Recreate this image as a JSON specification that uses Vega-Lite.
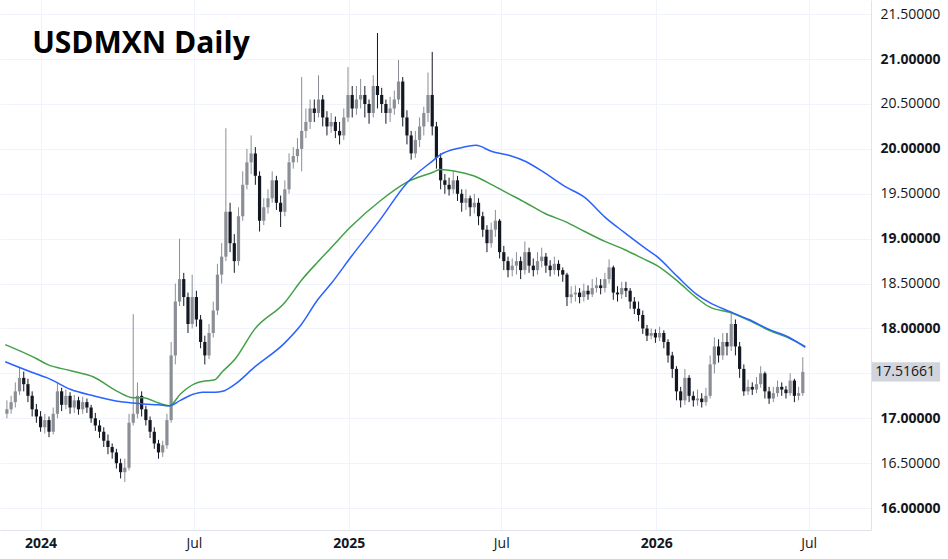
{
  "$schema": "https://vega.github.io/schema/vega-lite/v6.json",
  "width": 871,
  "height": 530,
  "autosize": "none",
  "padding": {"left": 0, "top": 0, "right": 77, "bottom": 29},
  "background": "#ffffff",
  "config": {
    "view": {"stroke": null},
    "font": "Open Sans"
  },
  "datasets": {
    "k": [
      {"d":"2023-11-22","o":17.05,"h":17.2,"l":17.0,"c":17.1},
      {"d":"2023-11-27","o":17.1,"h":17.25,"l":17.05,"c":17.18},
      {"d":"2023-12-02","o":17.18,"h":17.4,"l":17.12,"c":17.3},
      {"d":"2023-12-07","o":17.3,"h":17.57,"l":17.26,"c":17.45},
      {"d":"2023-12-12","o":17.45,"h":17.52,"l":17.3,"c":17.38},
      {"d":"2023-12-17","o":17.38,"h":17.44,"l":17.18,"c":17.25},
      {"d":"2023-12-22","o":17.25,"h":17.3,"l":17.02,"c":17.1},
      {"d":"2023-12-27","o":17.1,"h":17.16,"l":16.95,"c":17.02},
      {"d":"2024-01-01","o":17.02,"h":17.08,"l":16.85,"c":16.9},
      {"d":"2024-01-06","o":16.9,"h":17.05,"l":16.83,"c":16.98},
      {"d":"2024-01-11","o":16.98,"h":17.02,"l":16.79,"c":16.85},
      {"d":"2024-01-16","o":16.85,"h":17.12,"l":16.82,"c":17.05},
      {"d":"2024-01-21","o":17.05,"h":17.4,"l":17.0,"c":17.3},
      {"d":"2024-01-26","o":17.3,"h":17.34,"l":17.08,"c":17.15},
      {"d":"2024-01-31","o":17.15,"h":17.32,"l":17.1,"c":17.25},
      {"d":"2024-02-05","o":17.25,"h":17.29,"l":17.05,"c":17.12},
      {"d":"2024-02-10","o":17.12,"h":17.26,"l":17.06,"c":17.2},
      {"d":"2024-02-15","o":17.2,"h":17.24,"l":17.04,"c":17.1},
      {"d":"2024-02-20","o":17.1,"h":17.24,"l":17.05,"c":17.18},
      {"d":"2024-02-25","o":17.18,"h":17.22,"l":17.06,"c":17.12},
      {"d":"2024-03-01","o":17.12,"h":17.15,"l":16.95,"c":17.0},
      {"d":"2024-03-06","o":17.0,"h":17.06,"l":16.86,"c":16.92},
      {"d":"2024-03-11","o":16.92,"h":16.98,"l":16.78,"c":16.85},
      {"d":"2024-03-16","o":16.85,"h":16.9,"l":16.68,"c":16.75},
      {"d":"2024-03-21","o":16.75,"h":16.82,"l":16.6,"c":16.68},
      {"d":"2024-03-26","o":16.68,"h":16.72,"l":16.55,"c":16.62},
      {"d":"2024-03-31","o":16.62,"h":16.66,"l":16.44,"c":16.5},
      {"d":"2024-04-05","o":16.5,"h":16.55,"l":16.33,"c":16.4},
      {"d":"2024-04-10","o":16.4,"h":16.55,"l":16.29,"c":16.45},
      {"d":"2024-04-15","o":16.45,"h":17.05,"l":16.42,"c":16.95},
      {"d":"2024-04-20","o":16.95,"h":18.16,"l":16.92,"c":17.05},
      {"d":"2024-04-25","o":17.05,"h":17.4,"l":17.0,"c":17.25},
      {"d":"2024-04-30","o":17.25,"h":17.3,"l":17.02,"c":17.1},
      {"d":"2024-05-05","o":17.1,"h":17.14,"l":16.92,"c":16.98},
      {"d":"2024-05-10","o":16.98,"h":17.02,"l":16.78,"c":16.85},
      {"d":"2024-05-15","o":16.85,"h":16.9,"l":16.66,"c":16.72},
      {"d":"2024-05-20","o":16.72,"h":16.76,"l":16.55,"c":16.62},
      {"d":"2024-05-25","o":16.62,"h":16.75,"l":16.57,"c":16.7},
      {"d":"2024-05-30","o":16.7,"h":17.05,"l":16.66,"c":16.98},
      {"d":"2024-06-04","o":16.98,"h":17.85,"l":16.95,"c":17.7},
      {"d":"2024-06-09","o":17.7,"h":18.5,"l":17.6,"c":18.3},
      {"d":"2024-06-14","o":18.3,"h":19.0,"l":18.25,"c":18.55},
      {"d":"2024-06-19","o":18.55,"h":18.62,"l":18.25,"c":18.35},
      {"d":"2024-06-24","o":18.35,"h":18.4,"l":17.95,"c":18.05},
      {"d":"2024-06-29","o":18.05,"h":18.6,"l":18.0,"c":18.35},
      {"d":"2024-07-04","o":18.35,"h":18.42,"l":18.02,"c":18.1},
      {"d":"2024-07-09","o":18.1,"h":18.15,"l":17.78,"c":17.85},
      {"d":"2024-07-14","o":17.85,"h":17.92,"l":17.6,"c":17.7},
      {"d":"2024-07-19","o":17.7,"h":18.05,"l":17.66,"c":17.95},
      {"d":"2024-07-24","o":17.95,"h":18.3,"l":17.9,"c":18.2},
      {"d":"2024-07-29","o":18.2,"h":18.72,"l":18.15,"c":18.6},
      {"d":"2024-08-03","o":18.6,"h":18.95,"l":18.5,"c":18.8},
      {"d":"2024-08-08","o":18.8,"h":20.23,"l":18.75,"c":19.3},
      {"d":"2024-08-13","o":19.3,"h":19.4,"l":18.85,"c":18.95},
      {"d":"2024-08-18","o":18.95,"h":19.05,"l":18.62,"c":18.75},
      {"d":"2024-08-23","o":18.75,"h":19.35,"l":18.7,"c":19.25},
      {"d":"2024-08-28","o":19.25,"h":19.75,"l":19.2,"c":19.6},
      {"d":"2024-09-02","o":19.6,"h":20.0,"l":19.55,"c":19.85},
      {"d":"2024-09-07","o":19.85,"h":20.15,"l":19.72,"c":19.95},
      {"d":"2024-09-12","o":19.95,"h":20.02,"l":19.6,"c":19.7},
      {"d":"2024-09-17","o":19.7,"h":19.75,"l":19.08,"c":19.2},
      {"d":"2024-09-22","o":19.2,"h":19.45,"l":19.15,"c":19.35},
      {"d":"2024-09-27","o":19.35,"h":19.55,"l":19.28,"c":19.45},
      {"d":"2024-10-02","o":19.45,"h":19.75,"l":19.4,"c":19.65},
      {"d":"2024-10-07","o":19.65,"h":19.7,"l":19.32,"c":19.4},
      {"d":"2024-10-12","o":19.4,"h":19.48,"l":19.13,"c":19.3},
      {"d":"2024-10-17","o":19.3,"h":19.65,"l":19.25,"c":19.55},
      {"d":"2024-10-22","o":19.55,"h":19.95,"l":19.5,"c":19.85},
      {"d":"2024-10-27","o":19.85,"h":20.02,"l":19.78,"c":19.92},
      {"d":"2024-11-01","o":19.92,"h":20.12,"l":19.85,"c":20.0},
      {"d":"2024-11-06","o":20.0,"h":20.8,"l":19.75,"c":20.2},
      {"d":"2024-11-11","o":20.2,"h":20.45,"l":20.12,"c":20.3},
      {"d":"2024-11-16","o":20.3,"h":20.55,"l":20.22,"c":20.45},
      {"d":"2024-11-21","o":20.45,"h":20.55,"l":20.3,"c":20.4},
      {"d":"2024-11-26","o":20.4,"h":20.82,"l":20.35,"c":20.55},
      {"d":"2024-12-01","o":20.55,"h":20.6,"l":20.25,"c":20.35},
      {"d":"2024-12-06","o":20.35,"h":20.42,"l":20.15,"c":20.25},
      {"d":"2024-12-11","o":20.25,"h":20.4,"l":20.18,"c":20.3},
      {"d":"2024-12-16","o":20.3,"h":20.36,"l":20.12,"c":20.2},
      {"d":"2024-12-21","o":20.2,"h":20.3,"l":20.05,"c":20.15},
      {"d":"2024-12-26","o":20.15,"h":20.45,"l":20.1,"c":20.35},
      {"d":"2024-12-31","o":20.35,"h":20.91,"l":20.3,"c":20.6},
      {"d":"2025-01-05","o":20.6,"h":20.7,"l":20.35,"c":20.45},
      {"d":"2025-01-10","o":20.45,"h":20.7,"l":20.38,"c":20.55},
      {"d":"2025-01-15","o":20.55,"h":20.78,"l":20.45,"c":20.6},
      {"d":"2025-01-20","o":20.6,"h":20.7,"l":20.35,"c":20.5},
      {"d":"2025-01-25","o":20.5,"h":20.55,"l":20.28,"c":20.4},
      {"d":"2025-01-30","o":20.4,"h":20.82,"l":20.35,"c":20.7},
      {"d":"2025-02-04","o":20.7,"h":21.29,"l":20.45,"c":20.6},
      {"d":"2025-02-09","o":20.6,"h":20.68,"l":20.4,"c":20.5},
      {"d":"2025-02-14","o":20.5,"h":20.55,"l":20.28,"c":20.4},
      {"d":"2025-02-19","o":20.4,"h":20.58,"l":20.3,"c":20.45},
      {"d":"2025-02-24","o":20.45,"h":20.65,"l":20.38,"c":20.55},
      {"d":"2025-03-01","o":20.55,"h":20.99,"l":20.5,"c":20.75},
      {"d":"2025-03-06","o":20.75,"h":20.8,"l":20.25,"c":20.35},
      {"d":"2025-03-11","o":20.35,"h":20.43,"l":20.05,"c":20.15},
      {"d":"2025-03-16","o":20.15,"h":20.2,"l":19.88,"c":19.95},
      {"d":"2025-03-21","o":19.95,"h":20.2,"l":19.9,"c":20.1},
      {"d":"2025-03-26","o":20.1,"h":20.35,"l":20.02,"c":20.25},
      {"d":"2025-03-31","o":20.25,"h":20.47,"l":20.15,"c":20.4},
      {"d":"2025-04-05","o":20.4,"h":20.85,"l":20.3,"c":20.6},
      {"d":"2025-04-10","o":20.6,"h":21.08,"l":20.15,"c":20.25},
      {"d":"2025-04-15","o":20.25,"h":20.3,"l":19.78,"c":19.9},
      {"d":"2025-04-20","o":19.9,"h":19.95,"l":19.55,"c":19.65},
      {"d":"2025-04-25","o":19.65,"h":19.72,"l":19.5,"c":19.6},
      {"d":"2025-04-30","o":19.6,"h":19.68,"l":19.48,"c":19.55},
      {"d":"2025-05-05","o":19.55,"h":19.75,"l":19.5,"c":19.65},
      {"d":"2025-05-10","o":19.65,"h":19.7,"l":19.42,"c":19.5},
      {"d":"2025-05-15","o":19.5,"h":19.55,"l":19.3,"c":19.4},
      {"d":"2025-05-20","o":19.4,"h":19.55,"l":19.32,"c":19.45},
      {"d":"2025-05-25","o":19.45,"h":19.48,"l":19.25,"c":19.35},
      {"d":"2025-05-30","o":19.35,"h":19.5,"l":19.28,"c":19.4},
      {"d":"2025-06-04","o":19.4,"h":19.45,"l":19.15,"c":19.25},
      {"d":"2025-06-09","o":19.25,"h":19.3,"l":19.02,"c":19.1},
      {"d":"2025-06-14","o":19.1,"h":19.15,"l":18.85,"c":18.95},
      {"d":"2025-06-19","o":18.95,"h":19.18,"l":18.9,"c":19.1},
      {"d":"2025-06-24","o":19.1,"h":19.32,"l":19.02,"c":19.2},
      {"d":"2025-06-29","o":19.2,"h":19.22,"l":18.78,"c":18.85},
      {"d":"2025-07-04","o":18.85,"h":18.92,"l":18.65,"c":18.75},
      {"d":"2025-07-09","o":18.75,"h":18.8,"l":18.57,"c":18.65},
      {"d":"2025-07-14","o":18.65,"h":18.78,"l":18.58,"c":18.7},
      {"d":"2025-07-19","o":18.7,"h":18.85,"l":18.6,"c":18.75},
      {"d":"2025-07-24","o":18.75,"h":18.8,"l":18.55,"c":18.65},
      {"d":"2025-07-29","o":18.65,"h":18.97,"l":18.6,"c":18.85},
      {"d":"2025-08-03","o":18.85,"h":18.9,"l":18.62,"c":18.7},
      {"d":"2025-08-08","o":18.7,"h":18.78,"l":18.58,"c":18.65},
      {"d":"2025-08-13","o":18.65,"h":18.85,"l":18.6,"c":18.75},
      {"d":"2025-08-18","o":18.75,"h":18.9,"l":18.68,"c":18.8},
      {"d":"2025-08-23","o":18.8,"h":18.84,"l":18.62,"c":18.7},
      {"d":"2025-08-28","o":18.7,"h":18.76,"l":18.58,"c":18.65},
      {"d":"2025-09-02","o":18.65,"h":18.8,"l":18.6,"c":18.72},
      {"d":"2025-09-07","o":18.72,"h":18.76,"l":18.58,"c":18.65},
      {"d":"2025-09-12","o":18.65,"h":18.68,"l":18.52,"c":18.6},
      {"d":"2025-09-17","o":18.6,"h":18.62,"l":18.25,"c":18.35},
      {"d":"2025-09-22","o":18.35,"h":18.47,"l":18.28,"c":18.38},
      {"d":"2025-09-27","o":18.38,"h":18.48,"l":18.3,"c":18.4},
      {"d":"2025-10-02","o":18.4,"h":18.45,"l":18.28,"c":18.35},
      {"d":"2025-10-07","o":18.35,"h":18.5,"l":18.3,"c":18.42},
      {"d":"2025-10-12","o":18.42,"h":18.48,"l":18.32,"c":18.38},
      {"d":"2025-10-17","o":18.38,"h":18.55,"l":18.35,"c":18.45},
      {"d":"2025-10-22","o":18.45,"h":18.57,"l":18.4,"c":18.48},
      {"d":"2025-10-27","o":18.48,"h":18.55,"l":18.38,"c":18.45},
      {"d":"2025-11-01","o":18.45,"h":18.62,"l":18.4,"c":18.55},
      {"d":"2025-11-06","o":18.55,"h":18.77,"l":18.5,"c":18.68},
      {"d":"2025-11-11","o":18.68,"h":18.7,"l":18.32,"c":18.4},
      {"d":"2025-11-16","o":18.4,"h":18.47,"l":18.3,"c":18.38},
      {"d":"2025-11-21","o":18.38,"h":18.52,"l":18.33,"c":18.45},
      {"d":"2025-11-26","o":18.45,"h":18.52,"l":18.35,"c":18.42},
      {"d":"2025-12-01","o":18.42,"h":18.45,"l":18.22,"c":18.3},
      {"d":"2025-12-06","o":18.3,"h":18.35,"l":18.16,"c":18.22},
      {"d":"2025-12-11","o":18.22,"h":18.3,"l":18.08,"c":18.15},
      {"d":"2025-12-16","o":18.15,"h":18.2,"l":17.94,"c":18.0},
      {"d":"2025-12-21","o":18.0,"h":18.04,"l":17.86,"c":17.92},
      {"d":"2025-12-26","o":17.92,"h":18.0,"l":17.88,"c":17.95},
      {"d":"2025-12-31","o":17.95,"h":17.99,"l":17.84,"c":17.9},
      {"d":"2026-01-05","o":17.9,"h":18.02,"l":17.86,"c":17.95},
      {"d":"2026-01-10","o":17.95,"h":17.98,"l":17.78,"c":17.85},
      {"d":"2026-01-15","o":17.85,"h":17.88,"l":17.62,"c":17.7},
      {"d":"2026-01-20","o":17.7,"h":17.74,"l":17.45,"c":17.55},
      {"d":"2026-01-25","o":17.55,"h":17.58,"l":17.2,"c":17.3},
      {"d":"2026-01-30","o":17.3,"h":17.35,"l":17.12,"c":17.2},
      {"d":"2026-02-04","o":17.2,"h":17.55,"l":17.15,"c":17.45},
      {"d":"2026-02-09","o":17.45,"h":17.48,"l":17.18,"c":17.25},
      {"d":"2026-02-14","o":17.25,"h":17.3,"l":17.13,"c":17.2},
      {"d":"2026-02-19","o":17.2,"h":17.32,"l":17.14,"c":17.22},
      {"d":"2026-02-24","o":17.22,"h":17.28,"l":17.12,"c":17.18},
      {"d":"2026-03-01","o":17.18,"h":17.34,"l":17.14,"c":17.25},
      {"d":"2026-03-06","o":17.25,"h":17.7,"l":17.22,"c":17.6},
      {"d":"2026-03-11","o":17.6,"h":17.9,"l":17.5,"c":17.8},
      {"d":"2026-03-16","o":17.8,"h":17.88,"l":17.62,"c":17.7},
      {"d":"2026-03-21","o":17.7,"h":17.95,"l":17.65,"c":17.85},
      {"d":"2026-03-26","o":17.85,"h":17.95,"l":17.7,"c":17.8},
      {"d":"2026-03-31","o":17.8,"h":18.19,"l":17.75,"c":18.05},
      {"d":"2026-04-05","o":18.05,"h":18.1,"l":17.7,"c":17.8},
      {"d":"2026-04-10","o":17.8,"h":17.85,"l":17.45,"c":17.55},
      {"d":"2026-04-15","o":17.55,"h":17.6,"l":17.25,"c":17.3},
      {"d":"2026-04-20","o":17.3,"h":17.43,"l":17.26,"c":17.35},
      {"d":"2026-04-25","o":17.35,"h":17.4,"l":17.26,"c":17.32},
      {"d":"2026-04-30","o":17.32,"h":17.46,"l":17.28,"c":17.38},
      {"d":"2026-05-05","o":17.38,"h":17.58,"l":17.34,"c":17.5},
      {"d":"2026-05-10","o":17.5,"h":17.52,"l":17.22,"c":17.3},
      {"d":"2026-05-15","o":17.3,"h":17.35,"l":17.16,"c":17.22},
      {"d":"2026-05-20","o":17.22,"h":17.35,"l":17.18,"c":17.28},
      {"d":"2026-05-25","o":17.28,"h":17.42,"l":17.24,"c":17.35},
      {"d":"2026-05-30","o":17.35,"h":17.4,"l":17.25,"c":17.32},
      {"d":"2026-06-04","o":17.32,"h":17.36,"l":17.22,"c":17.28},
      {"d":"2026-06-09","o":17.28,"h":17.5,"l":17.25,"c":17.42},
      {"d":"2026-06-14","o":17.42,"h":17.44,"l":17.18,"c":17.25},
      {"d":"2026-06-19","o":17.25,"h":17.35,"l":17.2,"c":17.28},
      {"d":"2026-06-24","o":17.28,"h":17.68,"l":17.25,"c":17.51661}
    ],
    "ma": [
      {"d":"2023-11-20","g":17.82,"b":17.63},
      {"d":"2023-12-28","g":17.66,"b":17.49},
      {"d":"2024-01-09","g":17.6,"b":17.45},
      {"d":"2024-02-06","g":17.53,"b":17.32},
      {"d":"2024-03-04","g":17.46,"b":17.25},
      {"d":"2024-04-01","g":17.3,"b":17.19},
      {"d":"2024-04-20","g":17.23,"b":17.17},
      {"d":"2024-05-02","g":17.23,"b":17.16},
      {"d":"2024-05-20","g":17.17,"b":17.15},
      {"d":"2024-06-02","g":17.14,"b":17.14},
      {"d":"2024-06-15","g":17.27,"b":17.2},
      {"d":"2024-07-01","g":17.38,"b":17.27},
      {"d":"2024-07-11","g":17.41,"b":17.29},
      {"d":"2024-07-26","g":17.43,"b":17.29},
      {"d":"2024-08-04","g":17.52,"b":17.3},
      {"d":"2024-08-19","g":17.66,"b":17.38},
      {"d":"2024-09-11","g":17.99,"b":17.57},
      {"d":"2024-10-17","g":18.29,"b":17.84},
      {"d":"2024-11-06","g":18.54,"b":18.05},
      {"d":"2024-11-25","g":18.74,"b":18.32},
      {"d":"2024-12-11","g":18.9,"b":18.5},
      {"d":"2025-01-03","g":19.13,"b":18.79},
      {"d":"2025-02-07","g":19.42,"b":19.21},
      {"d":"2025-03-11","g":19.63,"b":19.62},
      {"d":"2025-04-11","g":19.74,"b":19.87},
      {"d":"2025-04-19","g":19.77,"b":19.93},
      {"d":"2025-05-13","g":19.74,"b":20.01},
      {"d":"2025-06-01","g":19.69,"b":20.04},
      {"d":"2025-06-20","g":19.6,"b":19.97},
      {"d":"2025-07-10","g":19.5,"b":19.93},
      {"d":"2025-07-30","g":19.4,"b":19.86},
      {"d":"2025-08-22","g":19.28,"b":19.73},
      {"d":"2025-09-15","g":19.19,"b":19.58},
      {"d":"2025-10-08","g":19.08,"b":19.46},
      {"d":"2025-11-01","g":18.97,"b":19.24},
      {"d":"2025-11-24","g":18.88,"b":19.07},
      {"d":"2025-12-18","g":18.77,"b":18.9},
      {"d":"2026-01-02","g":18.7,"b":18.8},
      {"d":"2026-01-26","g":18.53,"b":18.58},
      {"d":"2026-02-18","g":18.34,"b":18.38},
      {"d":"2026-03-05","g":18.24,"b":18.29},
      {"d":"2026-03-29","g":18.18,"b":18.19},
      {"d":"2026-04-21","g":18.09,"b":18.1},
      {"d":"2026-05-15","g":17.98,"b":17.99},
      {"d":"2026-06-08","g":17.89,"b":17.9},
      {"d":"2026-06-27","g":17.8,"b":17.79}
    ]
  },
  "layer": [
    {
      "data": {"name": "k"},
      "mark": {"type": "rule", "strokeWidth": 1},
      "encoding": {
        "x": {
          "field": "d", "type": "temporal", "title": null,
          "scale": {"type": "utc", "domain": [{"year": 2023, "month": 11, "date": 19, "hours": 18, "utc": true}, {"year": 2026, "month": 9, "date": 7, "hours": 1, "utc": true}]},
          "axis": {
            "title": null,
            "orient": "bottom",
            "values": [
              {"year": 2024, "month": 1, "date": 1, "utc": true},
              {"year": 2024, "month": 7, "date": 1, "utc": true},
              {"year": 2025, "month": 1, "date": 1, "utc": true},
              {"year": 2025, "month": 7, "date": 1, "utc": true},
              {"year": 2026, "month": 1, "date": 1, "utc": true},
              {"year": 2026, "month": 7, "date": 1, "utc": true}
            ],
            "labelExpr": "utcmonth(datum.value) === 0 ? utcFormat(datum.value, '%Y') : 'Jul'",
            "labelFontWeight": {"condition": {"test": "utcmonth(datum.value) === 0", "value": "bold"}, "value": "normal"},
            "labelFont": "Open Sans",
            "labelFontSize": 14,
            "labelColor": "#131722",
            "labelPadding": 6,
            "labelFlush": false,
            "labelOverlap": false,
            "ticks": false,
            "grid": true,
            "gridColor": "#f0f3fa",
            "gridWidth": 1,
            "domainColor": "#e0e3eb",
            "domainWidth": 1
          }
        },
        "y": {
          "field": "l", "type": "quantitative", "title": null,
          "scale": {"domain": [15.756, 21.658], "nice": false, "zero": false},
          "axis": {
            "title": null,
            "orient": "right",
            "values": [16, 16.5, 17, 17.5, 18, 18.5, 19, 19.5, 20, 20.5, 21, 21.5],
            "labelExpr": "datum.value === 17.5 ? '' : format(datum.value, '.5f')",
            "labelFontWeight": {"condition": {"test": "datum.value % 1 === 0", "value": "bold"}, "value": "normal"},
            "labelFont": "Open Sans",
            "labelFontSize": 14,
            "labelColor": "#131722",
            "labelAlign": "left",
            "labelBaseline": "middle",
            "labelPadding": 9,
            "labelOverlap": false,
            "labelFlush": false,
            "ticks": false,
            "grid": true,
            "gridColor": "#f0f3fa",
            "gridWidth": 1,
            "domainColor": "#e0e3eb",
            "domainWidth": 1
          }
        },
        "y2": {"field": "h"},
        "color": {"condition": {"test": "datum.c >= datum.o", "value": "#8b8e95"}, "value": "#131722"}
      }
    },
    {
      "data": {"name": "k"},
      "mark": {"type": "bar", "size": 3.2},
      "encoding": {
        "x": {"field": "d", "type": "temporal", "title": null},
        "y": {"field": "o", "type": "quantitative", "title": null},
        "y2": {"field": "c"},
        "color": {"condition": {"test": "datum.c >= datum.o", "value": "#8b8e95"}, "value": "#131722"}
      }
    },
    {
      "data": {"name": "ma"},
      "mark": {"type": "line", "color": "#43a047", "strokeWidth": 1.5, "interpolate": "monotone"},
      "encoding": {
        "x": {"field": "d", "type": "temporal", "title": null},
        "y": {"field": "g", "type": "quantitative", "title": null}
      }
    },
    {
      "data": {"name": "ma"},
      "mark": {"type": "line", "color": "#2962ff", "strokeWidth": 1.5, "interpolate": "monotone"},
      "encoding": {
        "x": {"field": "d", "type": "temporal", "title": null},
        "y": {"field": "b", "type": "quantitative", "title": null}
      }
    },
    {
      "data": {"values": [{"p": 17.51661}]},
      "mark": {"type": "rect", "color": "#d1d4dc", "clip": false},
      "encoding": {
        "x": {"datum": {"year": 2026, "month": 9, "date": 14, "utc": true}, "type": "temporal"},
        "x2": {"datum": {"year": 2026, "month": 12, "date": 4, "utc": true}},
        "y": {"datum": 17.41, "type": "quantitative"},
        "y2": {"datum": 17.623}
      }
    },
    {
      "data": {"values": [{"p": 17.51661}]},
      "mark": {"type": "text", "align": "left", "baseline": "middle", "font": "Open Sans", "fontSize": 14, "color": "#131722", "clip": false},
      "encoding": {
        "x": {"datum": {"year": 2026, "month": 9, "date": 18, "utc": true}, "type": "temporal"},
        "y": {"field": "p", "type": "quantitative"},
        "text": {"field": "p", "type": "quantitative", "format": ".5f"}
      }
    },
    {
      "data": {"values": [{"t": "USDMXN Daily"}]},
      "mark": {"type": "text", "align": "left", "baseline": "middle", "font": "Open Sans", "fontSize": 30, "fontWeight": "bold", "color": "#000000"},
      "encoding": {
        "x": {"datum": {"year": 2023, "month": 12, "date": 22, "utc": true}, "type": "temporal"},
        "y": {"datum": 21.168, "type": "quantitative"},
        "text": {"field": "t", "type": "nominal"}
      }
    }
  ]
}
